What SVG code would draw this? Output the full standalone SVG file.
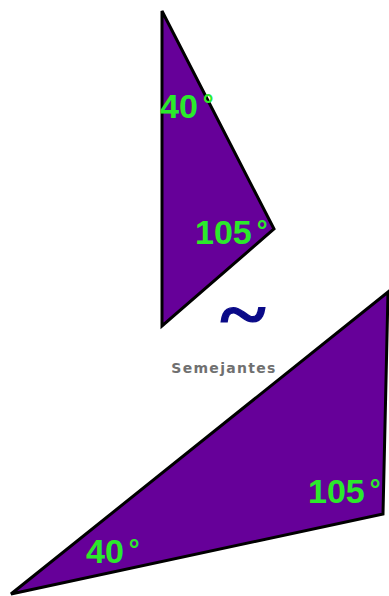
<svg xmlns="http://www.w3.org/2000/svg" width="389" height="596" viewBox="0 0 389 596">
<style>
.tri{fill:#660099;stroke:#000;stroke-width:3;stroke-linejoin:miter}
.ang{font-family:"Liberation Sans",Arial,sans-serif;font-weight:bold;font-size:34px;fill:#2bea2b}
.deg{font-size:27px}
.lbl{font-family:"DejaVu Sans",sans-serif;font-weight:bold;font-size:14px;fill:#707070;letter-spacing:1.3px}
.sim{font-family:"Liberation Serif",serif;font-weight:bold;font-size:64px;fill:#0a0a88;stroke:#0a0a88;stroke-width:1}
</style>
<rect width="389" height="596" fill="#fff"/>
<g id="small-triangle">
<polygon class="tri" points="162,11 274,229 162,326"/>
<text class="ang" x="160" y="118">40<tspan class="deg" dx="5" dy="-4">°</tspan></text>
<text class="ang" x="195" y="244">105<tspan class="deg" dx="5" dy="-4">°</tspan></text>
</g>
<g id="large-triangle">
<polygon class="tri" points="11,594 388,292 383,514"/>
<text class="ang" x="308" y="503">105<tspan class="deg" dx="5" dy="-4">°</tspan></text>
<text class="ang" x="86" y="563">40<tspan class="deg" dx="5" dy="-4">°</tspan></text>
</g>
<g id="similar">
<text class="sim" x="0" y="0" text-anchor="middle" transform="translate(243,340) scale(1.35,1.2)">~</text>
<text class="lbl" x="224" y="373" text-anchor="middle">Semejantes</text>
</g>
</svg>
